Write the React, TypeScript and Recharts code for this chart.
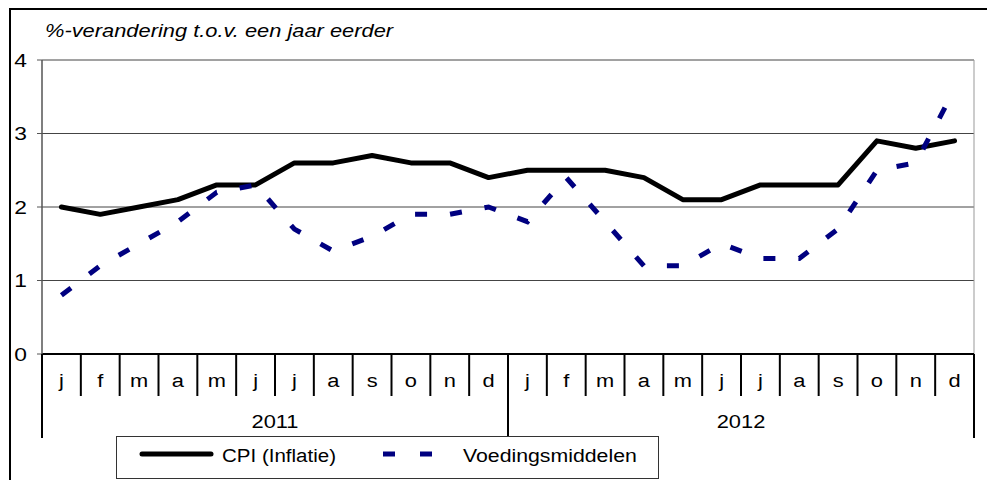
import { LineChart, Line, XAxis, YAxis, CartesianGrid } from "recharts"

const monthLetters = ["j", "f", "m", "a", "m", "j", "j", "a", "s", "o", "n", "d"]
const years = ["2011", "2012"]
const cpi = [2.0, 1.9, 2.0, 2.1, 2.3, 2.3, 2.6, 2.6, 2.7, 2.6, 2.6, 2.4, 2.5, 2.5, 2.5, 2.4, 2.1, 2.1, 2.3, 2.3, 2.3, 2.9, 2.8, 2.9]
const food = [0.8, 1.2, 1.5, 1.8, 2.2, 2.3, 1.7, 1.4, 1.6, 1.9, 1.9, 2.0, 1.8, 2.4, 1.8, 1.2, 1.2, 1.5, 1.3, 1.3, 1.7, 2.5, 2.6, 3.6]
const yTicks = [0, 1, 2, 3, 4]
const title = "%-verandering t.o.v. een jaar eerder"
const seriesNames = ["CPI (Inflatie)", "Voedingsmiddelen"]

const rows = years.flatMap((year, yi) =>
  monthLetters.map((m, mi) => ({
    key: `${year}-${mi + 1}`,
    m,
    year,
    cpi: cpi[yi * 12 + mi],
    food: food[yi * 12 + mi],
  }))
)

const W = 987
const H = 472
const M = { top: 52, right: 21, left: 0, bottom: 42 }
const Y_W = 34
const PLOT_W = W - M.left - M.right - Y_W
const monthBand = PLOT_W / rows.length
const perYear = monthLetters.length
const ROW_H = 42
const FONT = '"Liberation Sans", Arial, sans-serif'
const NAVY = "#000080"
const DASH = "12 23"

const MonthTick = (props: any) => {
  const { x, y, index } = props
  const last = index === rows.length - 1
  return (
    <g>
      <line x1={x - monthBand / 2} x2={x - monthBand / 2} y1={y} y2={y + ROW_H} stroke="#000" strokeWidth={2} />
      {last && <line x1={x + monthBand / 2} x2={x + monthBand / 2} y1={y} y2={y + ROW_H} stroke="#000" strokeWidth={2} />}
      <text transform={`translate(${x},${y + 33}) scale(1.15,1)`} textAnchor="middle" fontFamily={FONT} fontSize={19} fill="#000">
        {rows[index]?.m}
      </text>
    </g>
  )
}

// one tick per month; the year label sits in the middle of its 12 months
const YearTick = (props: any) => {
  const { x, y, index } = props
  const first = index % perYear === 0
  const last = index === rows.length - 1
  const left = x - monthBand / 2
  return (
    <g>
      {first && <line x1={left} x2={left} y1={y - ROW_H} y2={y + ROW_H} stroke="#000" strokeWidth={2} />}
      {last && <line x1={x + monthBand / 2} x2={x + monthBand / 2} y1={y - ROW_H} y2={y + ROW_H} stroke="#000" strokeWidth={2} />}
      {first && (
        <text
          transform={`translate(${left + (monthBand * perYear) / 2},${y + 32}) scale(1.15,1)`}
          textAnchor="middle"
          fontFamily={FONT}
          fontSize={19}
          fill="#000"
        >
          {rows[index]?.year}
        </text>
      )}
    </g>
  )
}

const ValueTick = (props: any) => {
  const { x, y, payload } = props
  return (
    <text transform={`translate(${x},${y + 6.5}) scale(1.2,1)`} textAnchor="end" fontFamily={FONT} fontSize={19} fill="#000">
      {payload.value}
    </text>
  )
}

export default function App() {
  const pad = { left: monthBand / 2, right: monthBand / 2 }
  return (
    <div style={{ position: "relative", width: W, height: H, background: "#fff" }}>
      <LineChart width={W} height={H} data={rows} margin={M}>
        <CartesianGrid vertical={false} stroke="#444" />
        <CartesianGrid
          horizontal={false}
          stroke="#999"
          verticalCoordinatesGenerator={({ offset }: any) => [offset.left + offset.width]}
        />
        <XAxis
          xAxisId="m"
          dataKey="key"
          padding={pad}
          height={ROW_H}
          interval={0}
          tickSize={0}
          tickMargin={0}
          tickLine={false}
          axisLine={{ stroke: "#000", strokeWidth: 2 }}
          tick={<MonthTick />}
        />
        <XAxis
          xAxisId="y"
          dataKey="key"
          padding={pad}
          height={ROW_H}
          interval={0}
          tickSize={0}
          tickMargin={0}
          tickLine={false}
          axisLine={false}
          tick={<YearTick />}
        />
        <YAxis
          width={Y_W}
          domain={[0, 4]}
          ticks={yTicks}
          interval={0}
          tickSize={5}
          tickMargin={10}
          axisLine={{ stroke: "#555", strokeWidth: 1.5 }}
          tickLine={{ stroke: "#555" }}
          tick={<ValueTick />}
        />
        <Line
          xAxisId="m"
          type="linear"
          dataKey="cpi"
          name={seriesNames[0]}
          stroke="#000"
          strokeWidth={5}
          strokeLinejoin="round"
          strokeLinecap="round"
          dot={false}
          isAnimationActive={false}
        />
        <Line
          xAxisId="m"
          type="linear"
          dataKey="food"
          name={seriesNames[1]}
          stroke={NAVY}
          strokeWidth={5}
          strokeDasharray={DASH}
          dot={false}
          isAnimationActive={false}
        />
      </LineChart>
      <svg width={W} height={H} style={{ position: "absolute", left: 0, top: 0, pointerEvents: "none" }}>
        <line x1={1} x2={W} y1={1} y2={1} stroke="#000" strokeWidth={2} />
        <line x1={2} x2={2} y1={0} y2={H} stroke="#000" strokeWidth={2} />
        <text transform="translate(37,29) scale(1.15,1)" fontFamily={FONT} fontSize={19} fontStyle="italic" fill="#000">
          {title}
        </text>
        <rect x={108.5} y={428.5} width={542} height={42} fill="#fff" stroke="#333" />
        <line x1={134} x2={203} y1={446} y2={446} stroke="#000" strokeWidth={5} strokeLinecap="round" />
        <text transform="translate(214,453.5) scale(1.08,1)" fontFamily={FONT} fontSize={19} fill="#000">
          {seriesNames[0]}
        </text>
        <line x1={375} x2={449} y1={446} y2={446} stroke={NAVY} strokeWidth={5} strokeDasharray="12 25" />
        <text transform="translate(455,453.5) scale(1.12,1)" fontFamily={FONT} fontSize={19} fill="#000">
          {seriesNames[1]}
        </text>
      </svg>
    </div>
  )
}
